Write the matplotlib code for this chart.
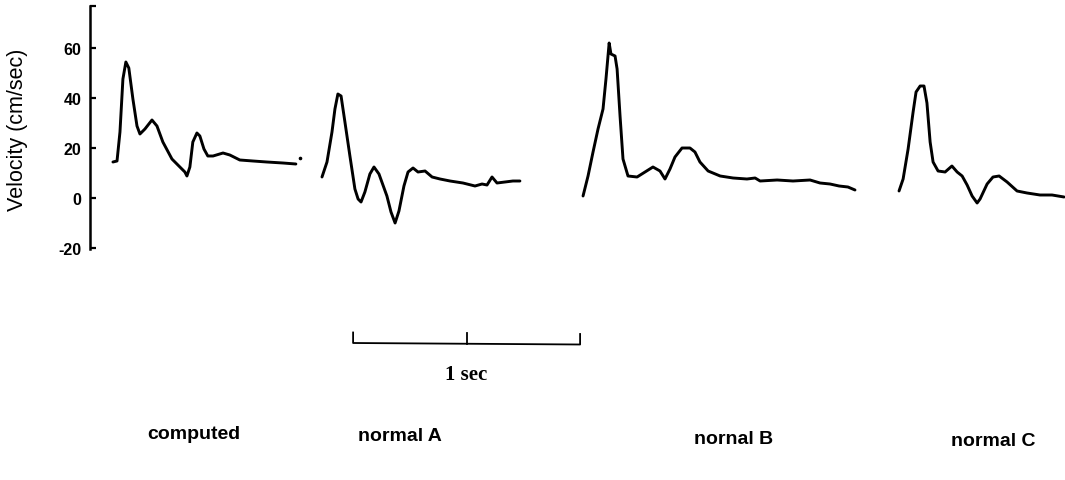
"""
Velocity waveforms: computed trace vs three normal recordings.
Shared velocity axis on the left, 1 s time scale bar under the traces.
"""

import numpy as np
import matplotlib.pyplot as plt
from matplotlib.ticker import FixedLocator

# === data (time in ms from trace onset, velocity in cm/sec) ===
computed_t = [0, 18, 31, 44, 57, 70, 88, 106, 119, 141, 172, 194, 220, 260, 295,
              317, 326, 339, 352, 370, 383, 401, 418, 441, 485, 515, 559, 617,
              678, 749, 806]
computed_v = [14.4, 14.8, 26.4, 47.6, 54.4, 52.0, 39.6, 28.8, 25.6, 27.6, 31.2,
              28.8, 22.4, 15.6, 12.4, 10.4, 8.8, 12.4, 22.4, 26.0, 24.8, 19.6,
              16.8, 16.8, 18.0, 17.2, 15.2, 14.8, 14.4, 14.0, 13.6]

normal_a_t = [0, 22, 44, 57, 70, 84, 101, 123, 145, 159, 172, 189, 211, 229, 251,
              286, 304, 322, 339, 361, 379, 401, 423, 454, 485, 520, 564, 621,
              674, 705, 727, 749, 771, 806, 841, 872]
normal_a_v = [8.4, 14.4, 26.4, 35.6, 41.6, 40.8, 30.4, 16.8, 3.6, -0.4, -1.6, 2.4,
              9.6, 12.4, 9.6, 0.8, -5.6, -10.0, -5.2, 4.8, 10.4, 12.0, 10.4, 10.8,
              8.4, 7.6, 6.8, 6.0, 4.8, 5.6, 5.2, 8.4, 6.0, 6.4, 6.8, 6.8]

normal_b_t = [0, 22, 44, 66, 88, 101, 115, 123, 141, 150, 163, 176, 198, 238, 273,
              308, 339, 361, 383, 405, 436, 471, 493, 515, 551, 604, 661, 722,
              758, 780, 855, 925, 1000, 1044, 1088, 1128, 1167, 1198]
normal_b_v = [0.8, 8.8, 18.4, 27.6, 35.6, 47.6, 62.0, 57.6, 56.8, 51.6, 32.8, 15.6,
              8.8, 8.4, 10.4, 12.4, 10.8, 7.6, 11.6, 16.4, 20.0, 20.0, 18.4, 14.4,
              10.8, 8.8, 8.0, 7.6, 8.0, 6.8, 7.2, 6.8, 7.2, 6.0, 5.6, 4.8, 4.4, 3.2]

normal_c_t = [0, 18, 40, 62, 75, 93, 110, 123, 137, 150, 172, 203, 233, 256, 278,
              300, 322, 344, 357, 388, 414, 441, 476, 520, 564, 621, 674, 727]
normal_c_v = [2.8, 7.6, 19.6, 34.4, 42.4, 44.8, 44.8, 38.0, 22.4, 14.4, 10.8, 10.4,
              12.8, 10.4, 8.8, 5.2, 0.8, -2.0, -0.4, 5.6, 8.4, 8.8, 6.4, 2.8, 2.0,
              1.2, 1.2, 0.4]

trace_names = ["computed", "normal A", "nornal B", "normal C"]
y_ticks = [-20, 0, 20, 40, 60]

# === layout (seconds along the strip, velocity units vertically) ===
onsets = [0.101, 1.022, 2.172, 3.564]
name_x = [0.458, 1.366, 2.837, 3.978]
name_y = [-94.4, -95.2, -96.4, -97.2]
bar_x0, bar_len, bar_y = 1.159, 1.0, -58.0

traces = [(computed_t, computed_v), (normal_a_t, normal_a_v),
          (normal_b_t, normal_b_v), (normal_c_t, normal_c_v)]

fig = plt.figure(figsize=(10.65, 4.81), dpi=100)
ax = fig.add_axes([90 / 1065, 0, 975 / 1065, 1])
ax.set_xlim(0, 975 / 227)
ax.set_ylim(-112.8, 79.6)

for (t, v), t0 in zip(traces, onsets):
    ax.plot(t0 + np.array(t) / 1000.0, v, color="black", lw=2.1,
            solid_joinstyle="round", solid_capstyle="round")

# stray speck next to the computed trace
ax.plot([onsets[0] + 0.824], [16.0], marker="o", ms=1.6, color="black")

# left axis only
for side in ["top", "right", "bottom"]:
    ax.spines[side].set_visible(False)
ax.spines["left"].set_linewidth(1.8)
ax.spines["left"].set_bounds(-20.4, 76.8)
ax.set_xticks([])
ax.yaxis.set_major_locator(FixedLocator(y_ticks))
ax.yaxis.set_minor_locator(FixedLocator([76.8]))
ax.tick_params(axis="y", which="both", direction="in", length=4, width=1.6, pad=6)
ax.set_yticklabels([str(v) for v in y_ticks], fontsize=11.5, fontweight="bold",
                   family=["Liberation Sans", "DejaVu Sans"])

fig.text(18 / 1065, 1 - 130 / 481, "Velocity (cm/sec)", rotation=90,
         ha="center", va="center", fontsize=15.5,
         family=["Liberation Sans", "DejaVu Sans"])

# 1 sec scale bar with end and middle ticks
ax.plot([bar_x0, bar_x0, bar_x0 + bar_len, bar_x0 + bar_len],
        [bar_y + 4.2, bar_y, bar_y - 0.6, bar_y + 3.6], color="black", lw=1.3)
ax.plot([bar_x0 + bar_len / 2] * 2, [bar_y - 0.3, bar_y + 4.2], color="black", lw=1.3)
ax.text(bar_x0 + bar_len / 2, -70.4, "1 sec", ha="center", va="center",
        fontsize=15, fontweight="bold", family=["Liberation Serif", "DejaVu Serif"])

for name, x, y in zip(trace_names, name_x, name_y):
    ax.text(x, y, name, ha="center", va="center", fontsize=14, fontweight="bold",
            family=["Liberation Sans", "DejaVu Sans"])

plt.savefig("out.png", dpi=100)
plt.close()
